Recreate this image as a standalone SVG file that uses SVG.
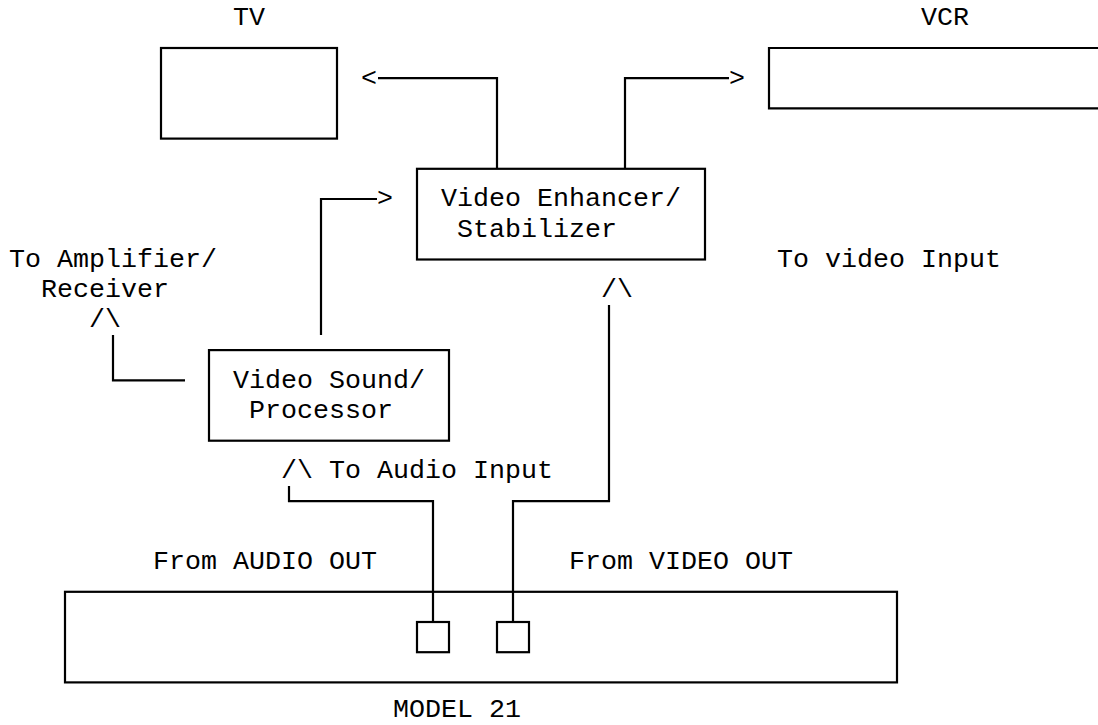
<svg xmlns="http://www.w3.org/2000/svg" width="1098" height="725" viewBox="0 0 1098 725">
<style>
text{font-family:"Liberation Mono","Courier New",monospace;font-size:26.67px;fill:#000}
.b{fill:none;stroke:#000;stroke-width:2.2}
.c{fill:none;stroke:#000;stroke-width:2.2;stroke-linejoin:miter}
</style>
<rect width="1098" height="725" fill="#fff"/>
<g id="tv">
<text x="233" y="25.1">TV</text>
<rect class="b" x="161" y="48" width="176" height="90.6"/>
</g>
<g id="vcr">
<text x="921" y="25.1">VCR</text>
<path class="b" d="M1100 48 H769 V108.4 H1100"/>
</g>
<g id="enhancer">
<rect class="b" x="417" y="168.8" width="288" height="90.7"/>
<text x="441" y="206.3">Video Enhancer/</text>
<text x="457" y="236.6">Stabilizer</text>
</g>
<g id="sound">
<rect class="b" x="209" y="350.1" width="240" height="90.6"/>
<text x="233" y="387.6">Video Sound/</text>
<text x="249" y="417.8">Processor</text>
</g>
<g id="model">
<rect class="b" x="65" y="591.8" width="832" height="90.6"/>
<rect class="b" x="417" y="622" width="32" height="30.2"/>
<rect class="b" x="497" y="622" width="32" height="30.2"/>
<text x="393" y="716.5">MODEL 21</text>
</g>
<g id="labels">
<text x="9" y="266.8">To Amplifier/</text>
<text x="41" y="297">Receiver</text>
<text x="777" y="266.8">To video Input</text>
<text x="329" y="478.2">To Audio Input</text>
<text x="153" y="568.9">From AUDIO OUT</text>
<text x="569" y="568.9">From VIDEO OUT</text>
</g>
<g id="connectors">
<path class="c" d="M497 168.8 V78.2 H378"/>
<text x="361" y="85.5">&lt;</text>
<path class="c" d="M625 168.8 V78.2 H729"/>
<text x="729" y="85.5">&gt;</text>
<path class="c" d="M321 335 V199 H377"/>
<text x="377" y="206.3">&gt;</text>
<path class="c" d="M113 335 V380.3 H185"/>
<text x="89" y="327.2">/\</text>
<text x="601" y="297">/\</text>
<path class="c" d="M609 305 V501.2 H513 V622"/>
<text x="281" y="478.2">/\</text>
<path class="c" d="M289 486 V501.2 H433 V622"/>
</g>
</svg>
